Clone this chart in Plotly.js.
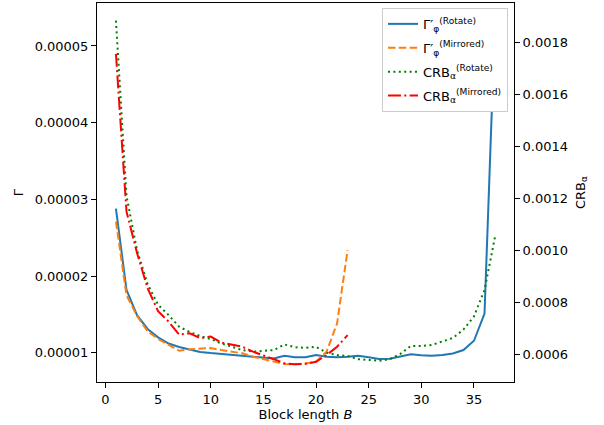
<!DOCTYPE html>
<html>
<head>
<meta charset="utf-8">
<script src="https://cdn.plot.ly/plotly-3.0.1.min.js"></script>
<style>html,body{margin:0;padding:0;background:#fff;}#chart{width:604px;height:425px;}</style>
</head>
<body>
<div id="chart"></div>
<script>
// Block lengths
const blockRot = [1,2,3,4,5,6,7,8,9,10,11,12,13,14,15,16,17,18,19,20,21,22,23,24,25,26,27,28,29,30,31,32,33,34,35,36,37];
const blockMir = [1,2,3,4,5,6,7,8,9,10,11,12,13,14,15,16,17,18,19,20,21,22,23];

// Gamma'_phi values (left axis)
const gammaRot = [2.88e-5,1.82e-5,1.49e-5,1.31e-5,1.20e-5,1.12e-5,1.075e-5,1.04e-5,1.01e-5,0.995e-5,
  0.983e-5,0.97e-5,0.96e-5,0.948e-5,0.935e-5,0.925e-5,0.96e-5,0.94e-5,0.94e-5,0.97e-5,
  0.948e-5,0.94e-5,0.948e-5,0.961e-5,0.94e-5,0.918e-5,0.92e-5,0.948e-5,0.979e-5,0.966e-5,
  0.961e-5,0.97e-5,0.99e-5,1.035e-5,1.156e-5,1.51e-5,5.34e-5];
const gammaMir = [2.71e-5,1.75e-5,1.48e-5,1.28e-5,1.18e-5,1.10e-5,1.025e-5,1.045e-5,1.055e-5,1.06e-5,
  1.035e-5,1.013e-5,0.992e-5,0.948e-5,0.914e-5,0.883e-5,0.853e-5,0.849e-5,0.86e-5,0.883e-5,
  1.013e-5,1.383e-5,2.339e-5];

// CRB_alpha values (right axis)
const crbRot = [0.001886,0.00121,0.00100,0.00087,0.00079,0.00075,0.000705,0.000685,0.000669,0.000658,
  0.000641,0.000628,0.000615,0.000609,0.000613,0.000615,0.000637,0.000626,0.000624,0.000628,
  0.000605,0.000596,0.000592,0.00058,0.000577,0.000574,0.00058,0.0006,0.000631,0.000631,
  0.000635,0.000647,0.000662,0.000694,0.000745,0.000847,0.001053];
const crbMir = [0.001758,0.00115,0.00099,0.000854,0.000765,0.000725,0.000675,0.00068,0.000661,0.000667,
  0.000644,0.000637,0.000628,0.000609,0.000596,0.00058,0.000564,0.00056,0.000562,0.00057,
  0.000596,0.000628,0.000673];

// Tick labels
const xTicks = [0,5,10,15,20,25,30,35];
const yTicks = [1e-5,2e-5,3e-5,4e-5,5e-5];
const yTickText = ["0.00001","0.00002","0.00003","0.00004","0.00005"];
const y2Ticks = [0.0006,0.0008,0.0010,0.0012,0.0014,0.0016,0.0018];
const y2TickText = ["0.0006","0.0008","0.0010","0.0012","0.0014","0.0016","0.0018"];

const FONT = "DejaVu Sans, sans-serif";

const traces = [
  {x: blockRot, y: gammaRot, type: 'scatter', mode: 'lines', yaxis: 'y', legendgroup: 'g1',
   name: "Γ′<sub>φ</sub><sup>(Rotate)</sup>",
   line: {color: '#1f77b4', width: 2}},
  {x: blockMir, y: gammaMir, type: 'scatter', mode: 'lines', yaxis: 'y', legendgroup: 'g2',
   name: "Γ′<sub>φ</sub><sup>(Mirrored)</sup>",
   line: {color: '#ff7f0e', width: 2, dash: '7.5px,3.3px'}},
  {x: blockRot, y: crbRot, type: 'scatter', mode: 'lines', yaxis: 'y2', legendgroup: 'g3',
   name: "CRB<sub>α</sub><sup>(Rotate)</sup>",
   line: {color: '#008000', width: 2, dash: '2px,3.4px'}},
  {x: blockMir, y: crbMir, type: 'scatter', mode: 'lines', yaxis: 'y2', legendgroup: 'g4',
   name: "CRB<sub>α</sub><sup>(Mirrored)</sup>",
   line: {color: '#ff0000', width: 2, dash: '13px,3.3px,2px,3.3px'}}
];

const axisCommon = {
  showgrid: false, zeroline: false, showline: true, linecolor: '#000', linewidth: 1,
  ticks: 'outside', ticklen: 5, tickwidth: 1, tickcolor: '#000',
  tickfont: {family: FONT, size: 13, color: '#000'}
};

const layout = {
  width: 604, height: 425,
  margin: {l: 97, r: 90, t: 3, b: 43, pad: 0},
  paper_bgcolor: '#fff', plot_bgcolor: '#fff',
  font: {family: FONT, size: 13, color: '#000'},
  showlegend: true,
  legend: {
    x: 0.9856, xanchor: 'right', y: 0.987, yanchor: 'top',
    bgcolor: '#ffffff', bordercolor: '#cccccc', borderwidth: 1,
    tracegroupgap: 4,
    font: {family: FONT, size: 13, color: '#000'}
  },
  xaxis: Object.assign({}, axisCommon, {
    range: [-0.8, 38.8], tickvals: xTicks, mirror: true,
    title: {text: "Block length <i>B</i>", font: {family: FONT, size: 13}, standoff: 3}
  }),
  yaxis: Object.assign({}, axisCommon, {
    range: [0.618e-5, 5.56e-5], tickvals: yTicks, ticktext: yTickText,
    title: {text: "Γ", font: {family: FONT, size: 13}, standoff: 8}
  }),
  yaxis2: Object.assign({}, axisCommon, {
    overlaying: 'y', side: 'right',
    range: [0.000492, 0.001954], tickvals: y2Ticks, ticktext: y2TickText,
    title: {text: "CRB<sub>α</sub>", font: {family: FONT, size: 13}, standoff: 8}
  })
};

Plotly.newPlot('chart', traces, layout, {displayModeBar: false, staticPlot: true});
</script>
</body>
</html>
